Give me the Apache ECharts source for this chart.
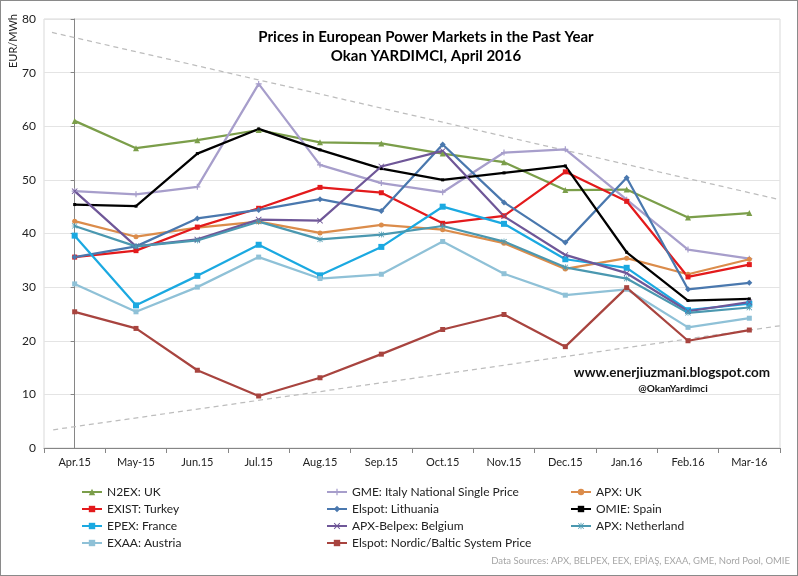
<!DOCTYPE html>
<html>
<head>
<meta charset="utf-8">
<script src="https://cdn.jsdelivr.net/npm/echarts@6/dist/echarts.min.js"></script>
<style>
html,body{margin:0;padding:0;background:#fff;}
#c{width:798px;height:576px;box-sizing:border-box;border:1px solid #8a8a8a;}
</style>
</head>
<body>
<div id="c"></div>
<script>
var categories = ['Apr.15','May-15','Jun.15','Jul.15','Aug.15','Sep.15','Oct.15','Nov.15','Dec.15','Jan.16','Feb.16','Mar-16'];
var n2exUK      = [61.0, 55.9, 57.4, 59.3, 57.0, 56.8, 54.9, 53.3, 48.1, 48.2, 43.0, 43.8];
var gmeItaly    = [47.9, 47.3, 48.7, 67.9, 52.8, 49.4, 47.7, 55.1, 55.7, 46.3, 37.0, 35.3];
var apxUK       = [42.3, 39.4, 41.1, 42.2, 40.1, 41.6, 40.7, 38.2, 33.4, 35.4, 32.4, 35.2];
var existTurkey = [35.6, 36.8, 41.2, 44.7, 48.6, 47.6, 41.9, 43.3, 51.5, 46.0, 31.9, 34.2];
var elspotLT    = [35.6, 37.6, 42.8, 44.4, 46.4, 44.2, 56.6, 45.8, 38.3, 50.4, 29.6, 30.8];
var omieSpain   = [45.4, 45.1, 54.9, 59.5, 55.6, 52.1, 50.0, 51.3, 52.6, 36.5, 27.5, 27.8];
var epexFrance  = [39.6, 26.6, 32.1, 37.9, 32.2, 37.5, 45.0, 41.8, 35.2, 33.6, 25.7, 26.9];
var belpexBE    = [47.9, 37.6, 38.9, 42.6, 42.4, 52.5, 55.4, 43.2, 36.0, 32.6, 25.5, 27.2];
var apxNL       = [41.4, 37.6, 38.7, 42.2, 38.9, 39.8, 41.4, 38.5, 33.7, 31.6, 25.2, 26.2];
var exaaAustria = [30.6, 25.4, 30.0, 35.6, 31.6, 32.4, 38.5, 32.5, 28.5, 29.6, 22.5, 24.2];
var elspotNordic= [25.4, 22.3, 14.5, 9.7, 13.1, 17.5, 22.1, 24.9, 18.9, 29.9, 20.0, 22.0];
var trendUpper  = [[-0.37, 77.5], [11.5, 46.3]];
var trendLower  = [[-0.35, 3.4], [11.5, 22.8]];
var yTicks = {min: 0, max: 80, interval: 10};

var FONT = 'Lato, "Liberation Sans", sans-serif';
var P_PLUS = 'path://M4,0H6V4H10V6H6V10H4V6H0V4H4Z';
var P_X = 'path://M1,0L5,4L9,0L10,1L6,5L10,9L9,10L5,6L1,10L0,9L4,5L0,1Z';
var P_AST = 'path://M4.4,0H5.6V4.4H10V5.6H5.6V10H4.4V5.6H0V4.4H4.4Z M1,0.2L5,4.2L9,0.2L9.8,1L5.8,5L9.8,9L9,9.8L5,5.8L1,9.8L0.2,9L4.2,5L0.2,1Z';

function mk(name, data, color, symbol, size) {
  return {
    name: name, type: 'line', data: data,
    symbol: symbol, symbolSize: size || 5, showSymbol: true,
    lineStyle: {color: color, width: 2.25},
    itemStyle: {color: color, borderWidth: 0},
    emphasis: {disabled: true}, animation: false
  };
}

var series = [
  mk('N2EX: UK', n2exUK, '#7B9E4A', 'triangle', 6),
  mk('GME: Italy National Single Price', gmeItaly, '#A79ECB', P_PLUS, 6),
  mk('APX: UK', apxUK, '#DB8C4B', 'circle', 5),
  mk('EXIST: Turkey', existTurkey, '#E31A1C', 'rect', 5),
  mk('Elspot: Lithuania', elspotLT, '#4A78AE', 'diamond', 6),
  mk('OMIE: Spain', omieSpain, '#000000', 'rect', 3),
  mk('EPEX: France', epexFrance, '#1BA9E1', 'rect', 6),
  mk('APX-Belpex: Belgium', belpexBE, '#6F5798', P_X, 6),
  mk('APX: Netherland', apxNL, '#4B98B0', P_AST, 6),
  mk('EXAA: Austria', exaaAustria, '#8FC1D7', 'rect', 5),
  mk('Elspot: Nordic/Baltic System Price', elspotNordic, '#A8443F', 'rect', 5),
  {type: 'line', xAxisIndex: 1, data: trendUpper, symbol: 'none', silent: true, z: 1,
   lineStyle: {color: '#BDBDBD', width: 1.25, type: [5, 4]}, animation: false},
  {type: 'line', xAxisIndex: 1, data: trendLower, symbol: 'none', silent: true, z: 1,
   lineStyle: {color: '#BDBDBD', width: 1.25, type: [5, 4]}, animation: false}
];

function lg(names, left) {
  return {
    data: names, orient: 'vertical', left: left, top: 484,
    itemWidth: 20, itemHeight: 8, itemGap: 3, selectedMode: false,
    textStyle: {fontFamily: FONT, fontSize: 12, color: '#222', lineHeight: 14},
    padding: 0
  };
}

var chart = echarts.init(document.getElementById('c'), null, {renderer: 'canvas'});
chart.setOption({
  backgroundColor: '#fff',
  animation: false,
  textStyle: {fontFamily: FONT},
  grid: {left: 43, right: 17, top: 18, bottom: 127, show: true, borderColor: '#D9D9D9', borderWidth: 1},
  xAxis: [{
    type: 'category', data: categories, boundaryGap: true,
    axisLine: {lineStyle: {color: '#868686', width: 1}},
    axisTick: {show: true, inside: false, length: 5, lineStyle: {color: '#868686'}},
    axisLabel: {fontFamily: FONT, fontSize: 11, color: '#222', margin: 9},
    splitLine: {show: false}
  }, {
    type: 'value', min: -0.5, max: 11.5, show: false
  }],
  yAxis: {
    type: 'value', min: yTicks.min, max: yTicks.max, interval: yTicks.interval,
    axisLine: {show: true, lineStyle: {color: '#868686', width: 1}},
    axisTick: {show: true, length: 4, lineStyle: {color: '#868686'}},
    axisLabel: {fontFamily: FONT, fontSize: 12, color: '#222', margin: 8},
    splitLine: {lineStyle: {color: '#E4E4E4', width: 1}}
  },
  legend: [
    lg(['N2EX: UK', 'EXIST: Turkey', 'EPEX: France', 'EXAA: Austria'], 80),
    lg(['GME: Italy National Single Price', 'Elspot: Lithuania', 'APX-Belpex: Belgium', 'Elspot: Nordic/Baltic System Price'], 325),
    lg(['APX: UK', 'OMIE: Spain', 'APX: Netherland'], 569)
  ],
  graphic: [
    {type: 'text', x: 425, y: 36, style: {text: 'Prices in European Power Markets in the Past Year', font: 'bold 15px ' + FONT, fill: '#000', align: 'center', verticalAlign: 'middle'}},
    {type: 'text', x: 425, y: 55, style: {text: 'Okan YARDIMCI, April 2016', font: 'bold 15px ' + FONT, fill: '#000', align: 'center', verticalAlign: 'middle'}},
    {type: 'text', x: 12, y: 40, rotation: Math.PI / 2, style: {text: 'EUR/MWh', font: '11px ' + FONT, fill: '#222', align: 'center', verticalAlign: 'middle'}},
    {type: 'text', x: 671, y: 372, style: {text: 'www.enerjiuzmani.blogspot.com', font: 'bold 13.5px ' + FONT, fill: '#111', align: 'center', verticalAlign: 'middle'}},
    {type: 'text', x: 672, y: 388, style: {text: '@OkanYardimci', font: 'bold 10px ' + FONT, fill: '#111', align: 'center', verticalAlign: 'middle'}},
    {type: 'text', x: 789, y: 560, style: {text: 'Data Sources: APX, BELPEX, EEX, EPİAŞ, EXAA, GME, Nord Pool, OMIE', font: '9.5px ' + FONT, fill: '#A6A6A6', align: 'right', verticalAlign: 'middle'}}
  ],
  series: series
});
</script>
</body>
</html>
